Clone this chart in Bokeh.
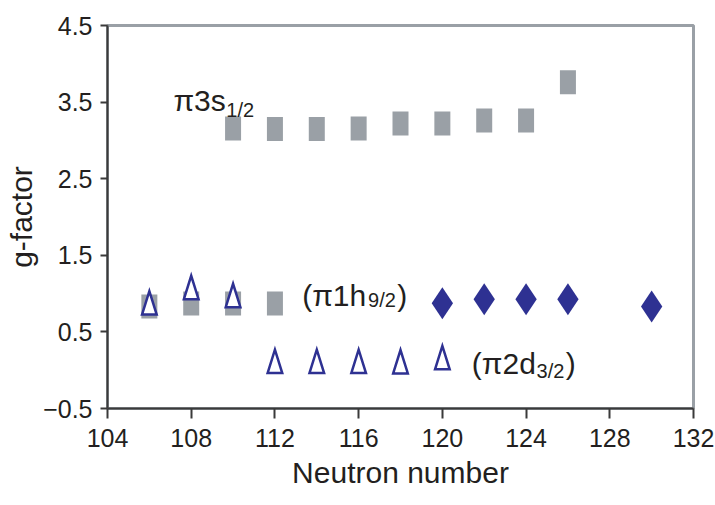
from bokeh.plotting import figure
from bokeh.models import Range1d, FixedTicker, Label
from bokeh.embed import file_html
from bokeh.resources import INLINE

# ---- data ----
s3_n = [110, 112, 114, 116, 118, 120, 122, 124, 126]          # pi 3s1/2 (grey squares, high)
s3_g = [3.155, 3.15, 3.15, 3.155, 3.22, 3.22, 3.26, 3.26, 3.76]
h9_sq_n = [106, 108, 110, 112]                                 # grey squares, low
h9_sq_g = [0.83, 0.87, 0.87, 0.87]
tri_n = [106, 108, 110, 112, 114, 116, 118, 120]               # open triangles
tri_g = [0.88, 1.08, 0.975, 0.115, 0.115, 0.115, 0.11, 0.165]
dia_n = [120, 122, 124, 126, 130]                              # filled diamonds
dia_g = [0.875, 0.925, 0.925, 0.925, 0.83]
x_ticks = [104, 108, 112, 116, 120, 124, 128, 132]
y_ticks = [-0.5, 0.5, 1.5, 2.5, 3.5, 4.5]
y_tick_labels = ["\u22120.5", "0.5", "1.5", "2.5", "3.5", "4.5"]

GREY = "#9aa0a6"
BLUE = "#2e3192"
TXT = "#231f20"
FONT = "Liberation Sans"

p = figure(width=715, height=505, output_backend="svg", toolbar_location=None,
           x_range=Range1d(104, 132), y_range=Range1d(-0.5, 4.5),
           min_border_left=107, min_border_right=22, min_border_top=25,
           min_border_bottom=97)
p.grid.visible = False
p.background_fill_color = "white"
p.border_fill_color = "white"
p.outline_line_color = GREY
p.outline_line_width = 3

# squares (tall rectangles)
p.rect(s3_n, s3_g, width=16, height=24, width_units="screen", height_units="screen",
       fill_color=GREY, line_color=None)
p.rect(h9_sq_n, h9_sq_g, width=16, height=24, width_units="screen", height_units="screen",
       fill_color=GREY, line_color=None)

# open triangles (tall)
hw, hh = 0.35, 0.153
xs = [[x - hw, x, x + hw] for x in tri_n]
ys = [[y - hh, y + hh, y - hh] for y in tri_g]
p.patches(xs, ys, fill_color="white", fill_alpha=1.0, line_color=BLUE, line_width=2.5,
          line_join="miter")

# filled diamonds
p.scatter(dia_n, dia_g, marker="diamond", size=32, fill_color=BLUE, line_color=None)

# axes
for ax in (p.xaxis, p.yaxis):
    ax.axis_line_color = "#3a3a3a"
    ax.axis_line_width = 2
    ax.major_tick_line_color = "#3a3a3a"
    ax.major_tick_line_width = 2
    ax.major_tick_in = 0
    ax.minor_tick_line_color = None
    ax.major_label_text_font = FONT
    ax.major_label_text_font_size = "25px"
    ax.major_label_text_color = TXT
    ax.axis_label_text_font = FONT
    ax.axis_label_text_font_size = "30px"
    ax.axis_label_text_font_style = "normal"
    ax.axis_label_text_color = TXT

p.xaxis.ticker = FixedTicker(ticks=x_ticks)
p.xaxis.major_tick_out = 10
p.xaxis.major_label_standoff = 10
p.xaxis.axis_label = "Neutron number"
p.xaxis.axis_label_standoff = 6

p.yaxis.ticker = FixedTicker(ticks=y_ticks)
p.yaxis.major_label_overrides = {t: l for t, l in zip(y_ticks, y_tick_labels)}
p.yaxis.major_tick_out = 7
p.yaxis.major_label_standoff = 8
p.yaxis.axis_label = "g-factor"
p.yaxis.axis_label_standoff = 2


def lab(x, y, text, size):
    p.add_layout(Label(x=x, y=y, text=text, text_font=FONT, text_font_size=size,
                       text_color=TXT, text_align="left", text_baseline="alphabetic"))


lab(107.15, 3.52, "\u03c03s", "30px")
lab(109.68, 3.40, "1/2", "20px")
lab(113.30, 0.975, "(\u03c01h", "30px")
lab(116.45, 0.92, "9/2", "20px")
lab(117.85, 0.975, ")", "30px")
lab(121.41, 0.088, "(\u03c02d", "30px")
lab(124.50, -0.004, "3/2", "20px")
lab(125.90, 0.088, ")", "30px")

open("out.html", "w").write(file_html(p, INLINE))
